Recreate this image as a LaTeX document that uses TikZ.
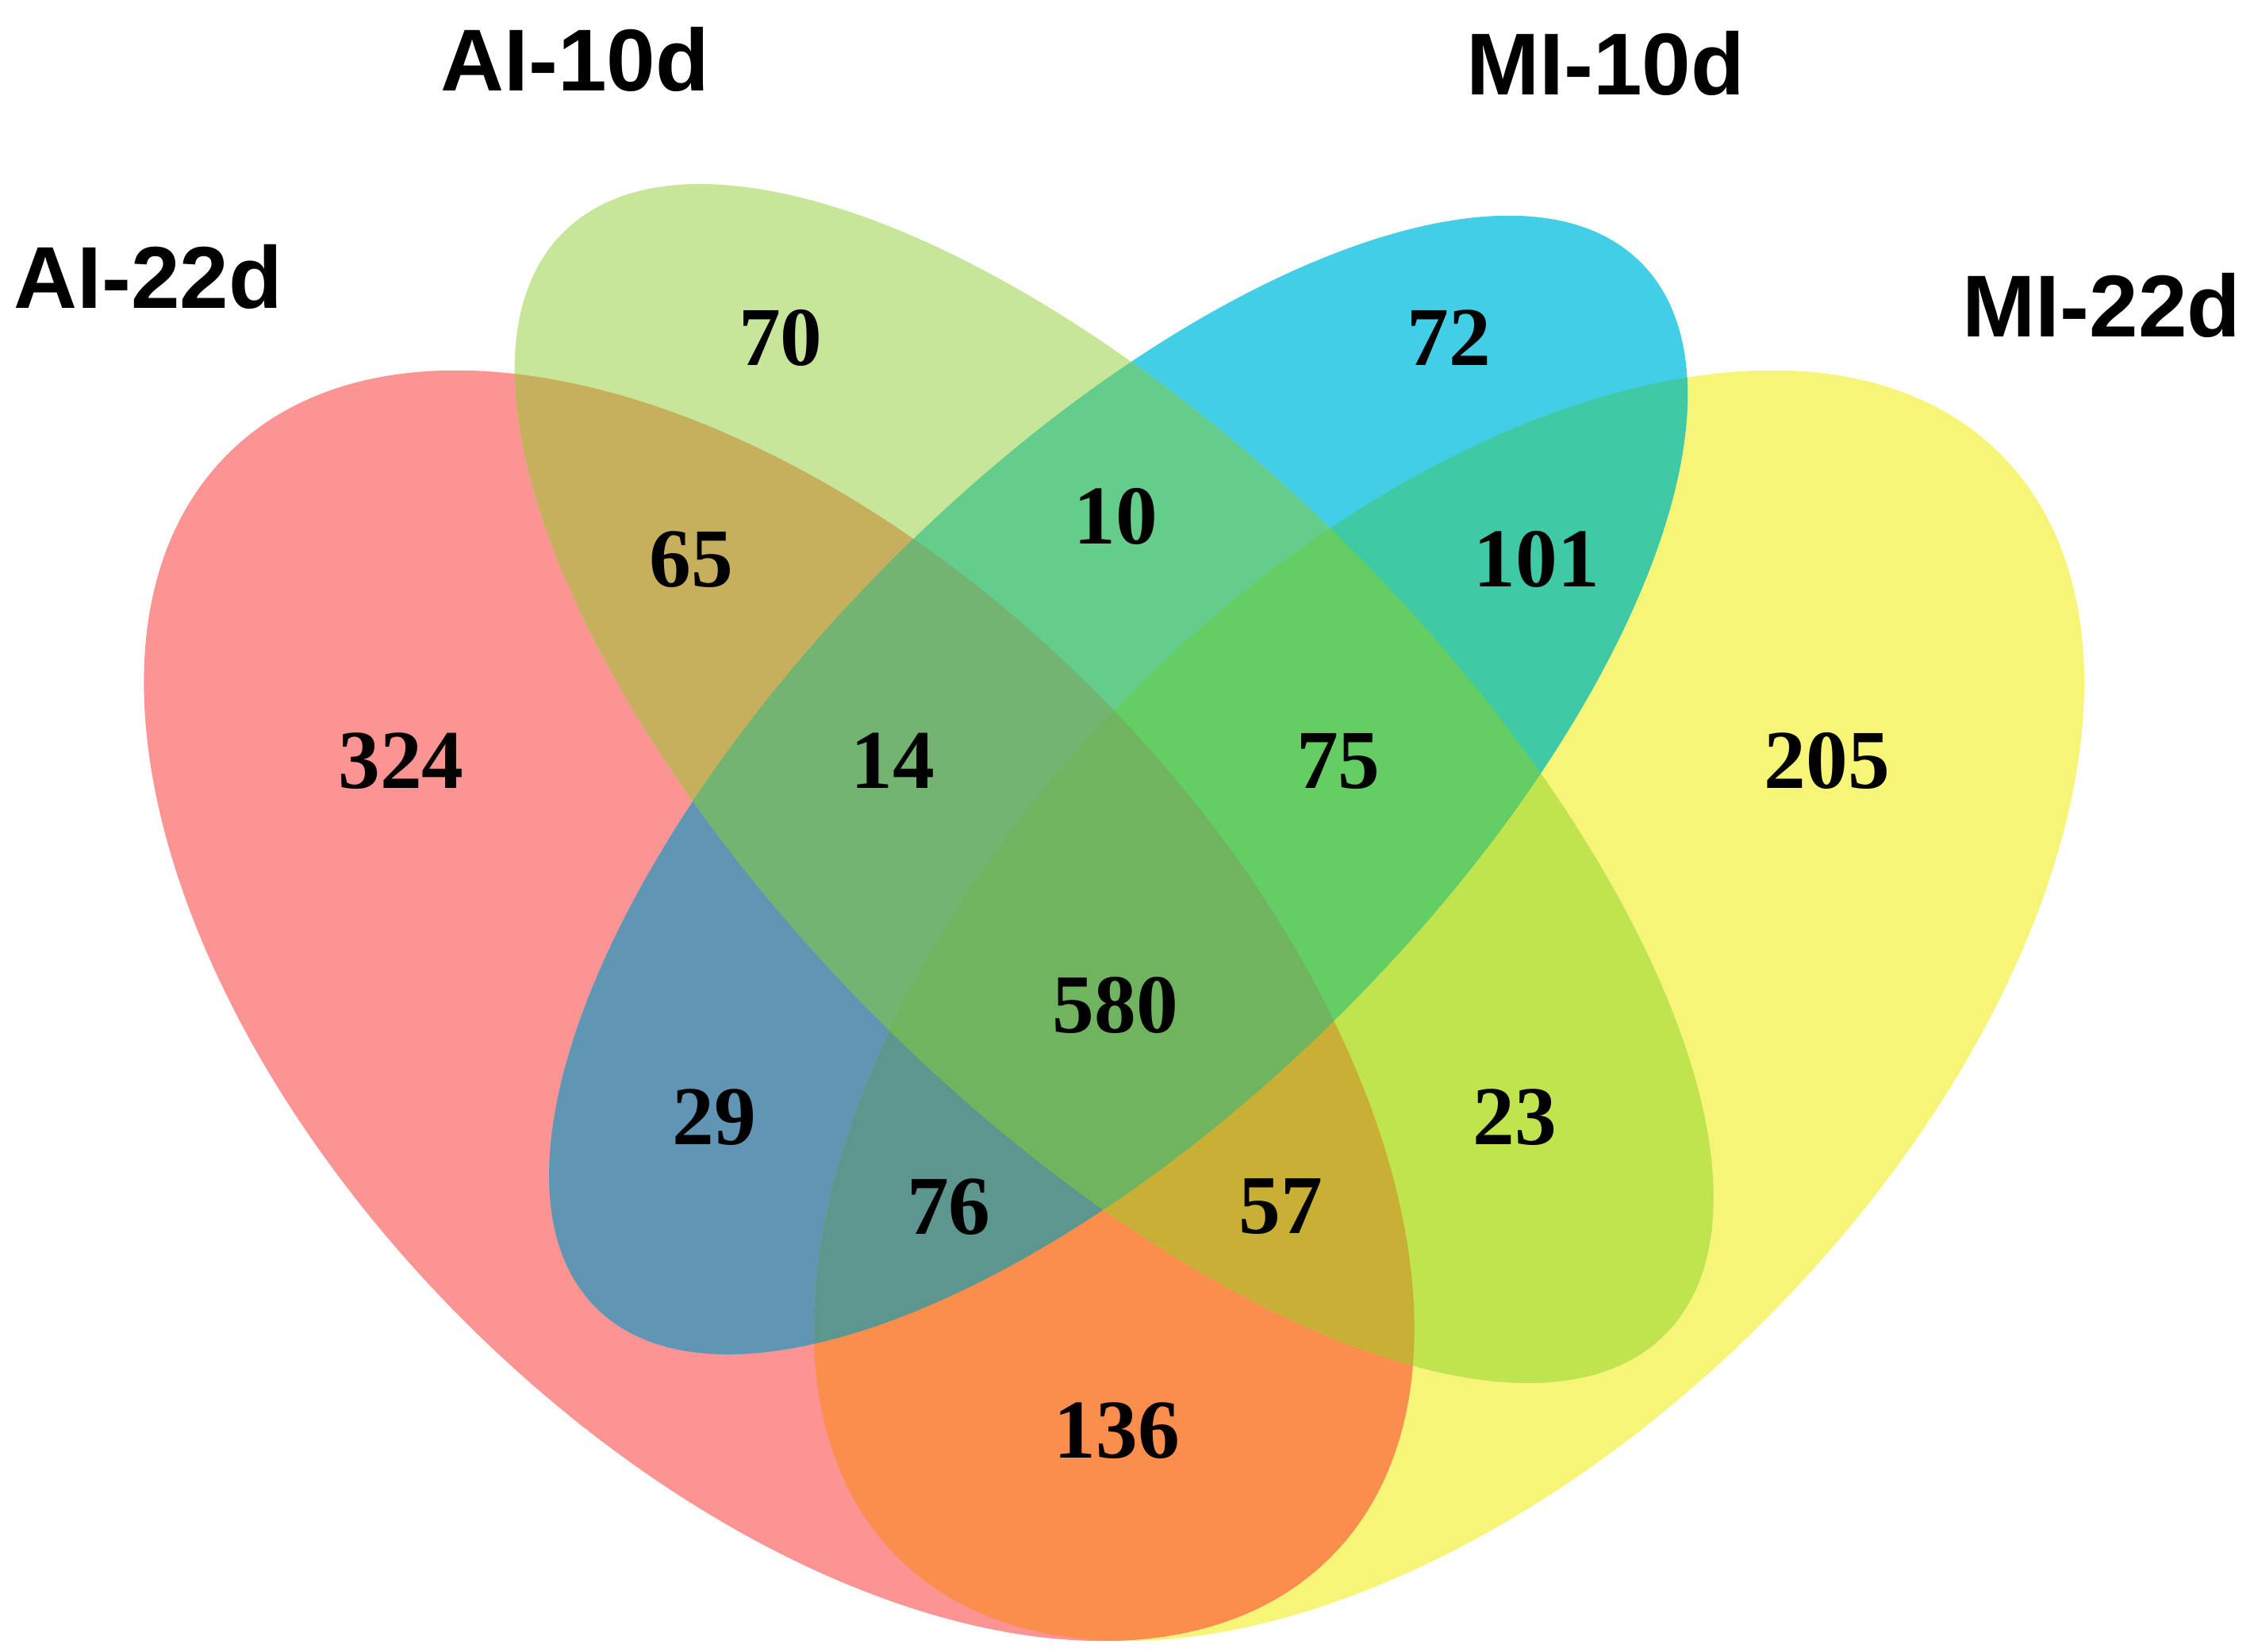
\documentclass[tikz,border=0pt]{standalone}
\usepackage{fontspec}
\setmainfont{Liberation Serif}
\newfontfamily\setfont{Liberation Sans}

% region colours
\definecolor{cR}{HTML}{FC9494}
\definecolor{cG}{HTML}{C8E69A}
\definecolor{cB}{HTML}{42CEE6}
\definecolor{cY}{HTML}{F7F578}
\definecolor{cRG}{HTML}{C6B05E}
\definecolor{cRB}{HTML}{6096B4}
\definecolor{cRY}{HTML}{FB8E4C}
\definecolor{cGB}{HTML}{64CD8C}
\definecolor{cGY}{HTML}{C0E44E}
\definecolor{cBY}{HTML}{40C9A5}
\definecolor{cRGB}{HTML}{72B470}
\definecolor{cRGY}{HTML}{C8B036}
\definecolor{cRBY}{HTML}{5C968E}
\definecolor{cGBY}{HTML}{64CD64}
\definecolor{cAll}{HTML}{70B460}

% the four sets
\newcommand\ellR{(542,699.5) circle[x radius=542.5, y radius=310, rotate=-45]}
\newcommand\ellG{(775,545) circle[x radius=542, y radius=232, rotate=-45]}
\newcommand\ellB{(778,546) circle[x radius=514, y radius=222, rotate=45]}
\newcommand\ellY{(1008,699.5) circle[x radius=542.5, y radius=310, rotate=45]}

\begin{document}
\begin{tikzpicture}[x=0.018119cm, y=-0.018119cm]

\tikzstyle cnt=[inner sep=0pt, text depth=0pt, font=\fontsize{30}{36}\selectfont\bfseries]
\tikzstyle setname=[inner sep=0pt, text depth=0pt, font=\fontsize{31.5}{38}\selectfont\setfont\bfseries]

\useasboundingbox (0,0) rectangle (1568,1149);

% one set
\fill[cY] \ellY;
\fill[cR] \ellR;
\fill[cB] \ellB;
\fill[cG] \ellG;

% two sets
\begin{scope} \clip \ellR; \fill[cRG] \ellG; \end{scope}
\begin{scope} \clip \ellR; \fill[cRB] \ellB; \end{scope}
\begin{scope} \clip \ellR; \fill[cRY] \ellY; \end{scope}
\begin{scope} \clip \ellG; \fill[cGB] \ellB; \end{scope}
\begin{scope} \clip \ellG; \fill[cGY] \ellY; \end{scope}
\begin{scope} \clip \ellB; \fill[cBY] \ellY; \end{scope}

% three sets
\begin{scope} \clip \ellR; \clip \ellG; \fill[cRGB] \ellB; \end{scope}
\begin{scope} \clip \ellR; \clip \ellG; \fill[cRGY] \ellY; \end{scope}
\begin{scope} \clip \ellR; \clip \ellB; \fill[cRBY] \ellY; \end{scope}
\begin{scope} \clip \ellG; \clip \ellB; \fill[cGBY] \ellY; \end{scope}

% four sets
\begin{scope} \clip \ellR; \clip \ellG; \clip \ellB; \fill[cAll] \ellY; \end{scope}

\node (ai22) [setname] at (103,192) {AI-22d};
\node (ai10) [setname] at (400,41)  {AI-10d};
\node (mi10) [setname] at (1117,44) {MI-10d};
\node (mi22) [setname] at (1462,212) {MI-22d};

\node (n70)  [cnt] at (543,235)  {70};
\node (n72)  [cnt] at (1008,235) {72};
\node (n10)  [cnt] at (776,359)  {10};
\node (n65)  [cnt] at (481,389)  {65};
\node (n101) [cnt] at (1069,389) {101};
\node (n324) [cnt] at (279,529)  {324};
\node (n14)  [cnt] at (621,529)  {14};
\node (n75)  [cnt] at (931,529)  {75};
\node (n205) [cnt] at (1271,529) {205};
\node (n580) [cnt] at (776,699)  {580};
\node (n29)  [cnt] at (497,777)  {29};
\node (n23)  [cnt] at (1054,777) {23};
\node (n76)  [cnt] at (660,839)  {76};
\node (n57)  [cnt] at (891,839)  {57};
\node (n136) [cnt] at (777,995)  {136};

\end{tikzpicture}
\end{document}
